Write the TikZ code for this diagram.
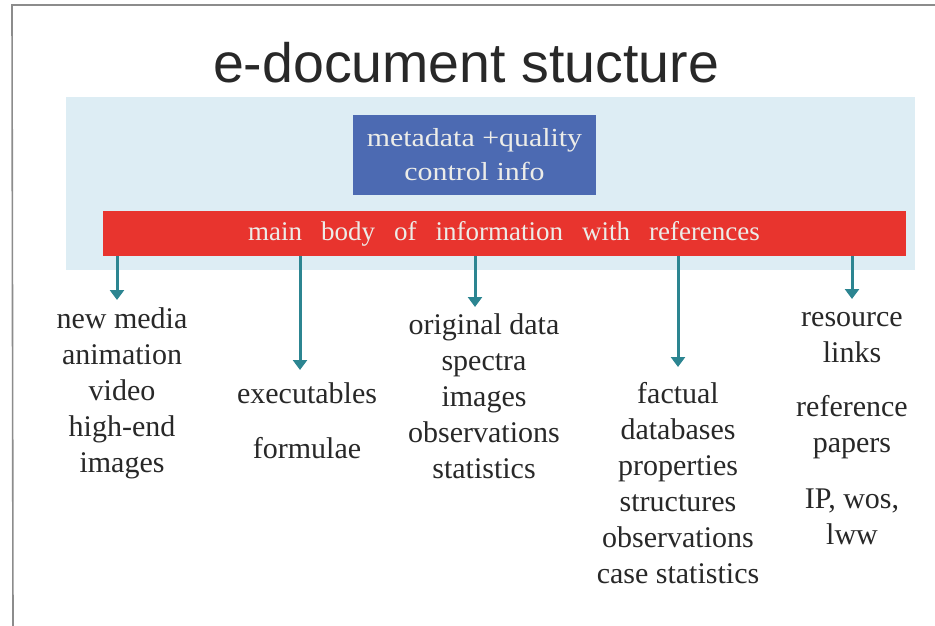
\documentclass[tikz,border=0pt]{standalone}
\usepackage{fontspec}
\setmainfont{Liberation Serif}
\newfontfamily\titlefont{Liberation Sans}
\newfontfamily\boxfont{Liberation Serif}[FakeStretch=1.15]
\usetikzlibrary{arrows.meta}

\definecolor{framegray}{RGB}{140,140,140}
\definecolor{bandblue}{RGB}{221,237,244}
\definecolor{metablue}{RGB}{76,106,178}
\definecolor{barred}{RGB}{232,52,46}
\definecolor{teal}{RGB}{44,133,145}
\definecolor{ink}{RGB}{40,40,40}
\definecolor{paletext}{RGB}{236,236,232}

\newcommand\widewords{\spaceskip=19pt\relax}

\tikzset{
  frameline/.style={draw=framegray, line width=1.6pt},
  metabox/.style={fill=metablue, text=paletext, align=center, inner sep=0pt,
    minimum width=243pt, minimum height=80pt,
    font=\boxfont\fontsize{26}{34}\selectfont},
  bodybar/.style={fill=barred, text=paletext, inner sep=0pt,
    minimum width=803pt, minimum height=45pt,
    font=\fontsize{27}{30}\selectfont},
  itemtext/.style={text=ink, align=center, inner sep=0pt,
    font=\fontsize{30}{36}\selectfont},
  arr/.style={draw=teal, line width=3pt,
    -{Triangle[width=14pt,length=10pt]}, fill=teal},
}

\begin{document}
\begin{tikzpicture}[x=1pt,y=-1pt]
\useasboundingbox (0,0) rectangle (935,626);
\fill[white] (0,0) rectangle (935,626);

% outer frame (top and left edges)
\draw[frameline] (935,5) -- (12,5) -- (13,626);

% title
\node[anchor=base, text=ink, inner sep=0pt,
      font=\titlefont\fontsize{55.5}{60}\selectfont] (title) at (466,83) {e-document stucture};

% pale band behind the header boxes
\fill[bandblue] (66,97) rectangle (915,270);

% header boxes
\node[metabox] (meta) at (474.5,154.5) {metadata +quality\\control info};
\node[bodybar] (body) at (504,233.5) {\widewords main body of information with references};

% column texts (anchored at the baseline of their last line)
\node[itemtext, anchor=base] (media) at (122,472)
  {new media\\animation\\video\\high-end\\images};
\node[itemtext, anchor=base] (exec) at (307,458)
  {executables\\[19pt]formulae};
\node[itemtext, anchor=base] (orig) at (484,478)
  {original data\\spectra\\images\\observations\\statistics};
\node[itemtext, anchor=base] (fact) at (678,583)
  {factual\\databases\\properties\\structures\\observations\\case statistics};
\node[itemtext, anchor=base] (res) at (852,544)
  {resource\\links\\[18pt]reference\\papers\\[20pt]IP, wos,\\lww};

% arrow tips
\coordinate (tip1) at (117,300);
\coordinate (tip2) at (300,370);
\coordinate (tip3) at (475,307);
\coordinate (tip4) at (678,367);
\coordinate (tip5) at (852,299);

% connectors from the main body bar
\foreach \t in {tip1,tip2,tip3,tip4,tip5}
  \draw[arr] (body.south -| \t) -- (\t);
\end{tikzpicture}
\end{document}
